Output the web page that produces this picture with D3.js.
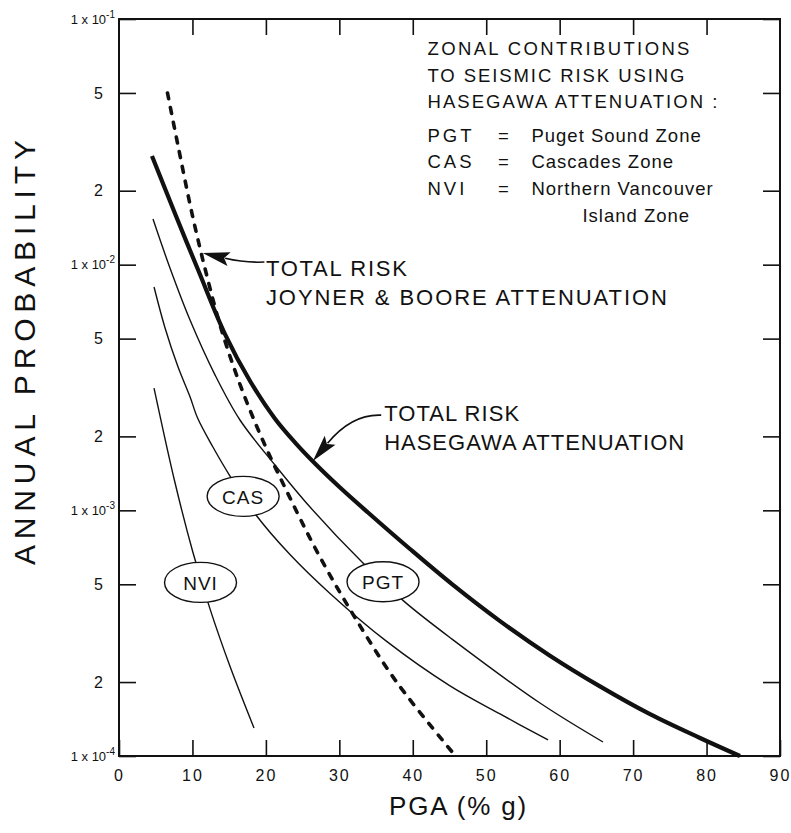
<!DOCTYPE html>
<html lang="en">
<head>
<meta charset="UTF-8">
<title>Zonal Contributions to Seismic Risk</title>
<script src="https://d3js.org/d3.v7.min.js"></script>
<style>
  body { margin: 0; background: #fff; }
  svg { display: block; font-family: "Liberation Sans", Arial, sans-serif; fill: #111; }
  .frame { fill: none; stroke: #111; stroke-width: 2; }
  .axis .tick line { stroke: #111; stroke-width: 1.6; }
  .axis .domain { display: none; }
  .axis text { fill: #111; font-size: 16px; font-family: "Liberation Sans", Arial, sans-serif; }
  .zone { fill: none; stroke: #111; stroke-width: 1.4; }
  .total { fill: none; stroke: #111; stroke-width: 4.2; }
  .joyner { fill: none; stroke: #111; stroke-width: 3.6; stroke-dasharray: 6 9; stroke-linecap: round; }
  .tag ellipse { fill: #fff; stroke: #111; stroke-width: 1.4; }
  .tag text { font-size: 19px; text-anchor: middle; dominant-baseline: central; letter-spacing: 1px; }
  .note { font-size: 22px; }
  .legend { font-size: 18.5px; }
</style>
</head>
<body>
<div id="chart"></div>
<script>
// PGA in % g, annual probability
const totalHasegawaPga  = [4.49, 7.76, 10.89, 14.43, 17.84, 21.24, 24.1, 26.82, 30.09, 33.9, 39.62, 45.47,
                           51.88, 58.68, 65.49, 72.3, 79.11, 84.55];
const totalHasegawaProb = [0.02769, 0.01578, 0.00933, 0.00522, 0.00336, 0.00236, 0.00187, 0.001537, 0.001239,
                           0.000980, 0.000696, 0.000497, 0.000354, 0.000256, 0.000192, 0.000148, 0.0001184, 0.0001];

const totalJoynerPga  = [6.6, 8, 10, 12, 14, 16.5, 19.5, 23, 27, 31.8, 37.8, 45.7];
const totalJoynerProb = [0.0500, 0.0309, 0.01585, 0.00891, 0.00537, 0.00324, 0.00195, 0.00117, 0.000676, 0.000380, 0.000200, 0.000101];

const pgtPga  = [4.63, 6.94, 9.67, 13.07, 16.47, 21.24, 26.01, 33.22, 38.94, 45.48, 57.32, 65.9];
const pgtProb = [0.01534, 0.00969, 0.00595, 0.00356, 0.002332, 0.001529, 0.001031, 0.000610, 0.000423,
                 0.000297, 0.0001643, 0.000114];

const casPga  = [4.77, 6.26, 8.03, 9.67, 10.7, 12.75, 15.07, 18.6, 23.28, 28.73, 36.49, 45.07, 51.88, 58.42];
const casProb = [0.00811, 0.00554, 0.00384, 0.00290, 0.002376, 0.001819, 0.001386, 0.000962, 0.000661,
                 0.000459, 0.000292, 0.000193, 0.0001483, 0.0001162];

const nviPga  = [4.77, 7.62, 10.08, 12.39, 15.11, 18.38];
const nviProb = [0.003146, 0.001298, 0.000672, 0.000397, 0.0002318, 0.00013];

const pgaTicks  = [0, 10, 20, 30, 40, 50, 60, 70, 80, 90];
const probTicks = [1e-4, 2e-4, 5e-4, 1e-3, 2e-3, 5e-3, 1e-2, 2e-2, 5e-2, 1e-1];

// zone tags
const tagNames = ["CAS", "PGT", "NVI"];
const tagPga   = [16.9, 35.95, 11.1];
const tagProb  = [1.14e-3, 5.12e-4, 5.09e-4];

// arrows: tail -> bend -> tip
const arrowTailPga  = [19.8, 35.7];
const arrowTailProb = [0.01025, 0.00244];
const arrowBendPga  = [17.2, 31.7];
const arrowBendProb = [0.01016, 0.00247];
const arrowTipPga   = [11.4, 26.4];
const arrowTipProb  = [0.01115, 0.001588];

// notes next to arrows
const noteText = [["TOTAL RISK", "JOYNER & BOORE ATTENUATION"], ["TOTAL RISK", "HASEGAWA ATTENUATION"]];
const notePga  = [20, 36.1];
const noteProb = [0.00899, 0.00231];
const noteLen  = [[141, 401], [135, 300]];

const legendLines = [
  ["ZONAL CONTRIBUTIONS"],
  ["TO SEISMIC RISK USING"],
  ["HASEGAWA ATTENUATION :"],
  ["PGT", "=", "Puget Sound Zone"],
  ["CAS", "=", "Cascades Zone"],
  ["NVI", "=", "Northern Vancouver"],
  ["", "", "Island Zone"]
];

const width = 791, height = 833;
const plotLeft = 119, plotRight = 780, plotTop = 19, plotBottom = 756;

const x = d3.scaleLinear().domain([0, 90]).range([plotLeft, plotRight]);
const y = d3.scaleLog().domain([1e-4, 1e-1]).range([plotBottom, plotTop]);

const svg = d3.select("#chart").append("svg")
  .attr("width", width)
  .attr("height", height);

// axes with inward ticks
svg.append("g").attr("class", "axis")
  .attr("transform", `translate(0,${plotBottom})`)
  .call(d3.axisBottom(x).tickValues(pgaTicks).tickSize(-16).tickSizeOuter(0).tickPadding(14))
  .selectAll("text").attr("letter-spacing", "2px");

svg.append("g").attr("class", "axis")
  .attr("transform", `translate(0,${plotTop})`)
  .call(d3.axisTop(x).tickValues(pgaTicks.slice(1, -1)).tickSize(-16).tickSizeOuter(0).tickFormat(""));

svg.append("g").attr("class", "axis")
  .attr("transform", `translate(${plotRight},0)`)
  .call(d3.axisRight(y).tickValues(probTicks).tickSize(-17).tickSizeOuter(0).tickFormat(""));

const yAxis = svg.append("g").attr("class", "axis")
  .attr("transform", `translate(${plotLeft},0)`)
  .call(d3.axisLeft(y).tickValues(probTicks).tickSize(-17).tickSizeOuter(0).tickPadding(4).tickFormat(""));

yAxis.selectAll(".tick text").each(function (d) {
  const exp = Math.floor(Math.log10(d) + 1e-9);
  const mant = Math.round(d / Math.pow(10, exp));
  const t = d3.select(this);
  if (mant === 1) {
    t.attr("x", -4).style("font-size", "13px").text("1 x 10");
    t.append("tspan").attr("dy", -6).style("font-size", "10px").text(exp);
  } else {
    t.attr("x", -16).text(mant);
  }
});

svg.append("rect").attr("class", "frame")
  .attr("x", plotLeft).attr("y", plotTop)
  .attr("width", plotRight - plotLeft).attr("height", plotBottom - plotTop);

// curves
const line = d3.line()
  .x(d => x(d[0]))
  .y(d => y(d[1]))
  .curve(d3.curveCatmullRom.alpha(0.5));

const zip = (a, b) => a.map((v, i) => [v, b[i]]);

[[pgtPga, pgtProb], [casPga, casProb], [nviPga, nviProb]].forEach(s => {
  svg.append("path").attr("class", "zone").attr("d", line(zip(s[0], s[1])));
});
svg.append("path").attr("class", "total").attr("d", line(zip(totalHasegawaPga, totalHasegawaProb)));
svg.append("path").attr("class", "joyner").attr("d", line(zip(totalJoynerPga, totalJoynerProb)));

// zone tags
const tags = svg.selectAll(".tag")
  .data(tagNames.map((n, i) => ({ name: n, px: x(tagPga[i]), py: y(tagProb[i]) })))
  .enter().append("g").attr("class", "tag")
  .attr("transform", d => `translate(${d.px},${d.py})`);
tags.append("ellipse").attr("rx", 36).attr("ry", 20);
tags.append("text").attr("y", 1).text(d => d.name);

// arrows
arrowTipPga.forEach((_, i) => {
  const tail = [x(arrowTailPga[i]), y(arrowTailProb[i])];
  const bend = [x(arrowBendPga[i]), y(arrowBendProb[i])];
  const tip = [x(arrowTipPga[i]), y(arrowTipProb[i])];
  let dx = tip[0] - bend[0], dy = tip[1] - bend[1];
  const len = Math.hypot(dx, dy);
  dx /= len; dy /= len;
  const headLen = 27, half = 7;
  const base = [tip[0] - dx * headLen, tip[1] - dy * headLen];
  svg.append("path")
    .attr("d", `M${tail[0]},${tail[1]} Q${bend[0]},${bend[1]} ${base[0] + dx * 4},${base[1] + dy * 4}`)
    .attr("fill", "none").attr("stroke", "#111").attr("stroke-width", 1.6);
  svg.append("path")
    .attr("d", `M${tip[0]},${tip[1]} L${base[0] - dy * half},${base[1] + dx * half} L${base[0] + dx * 5},${base[1] + dy * 5} L${base[0] + dy * half},${base[1] - dx * half} Z`)
    .attr("fill", "#111");
});

// notes
noteText.forEach((lines, i) => {
  lines.forEach((txt, j) => {
    svg.append("text").attr("class", "note")
      .attr("x", x(notePga[i]))
      .attr("y", y(noteProb[i]) + j * 29)
      .attr("textLength", noteLen[i][j])
      .attr("lengthAdjust", "spacing")
      .text(txt);
  });
});

// legend block
const legX = x(42), legY = 55;
const legOffsets = [0, 27, 53, 87, 113, 140, 167];
const legLens = [262, 257, 290];
legendLines.forEach((parts, i) => {
  const yy = legY + legOffsets[i];
  if (parts.length === 1) {
    svg.append("text").attr("class", "legend").attr("x", legX).attr("y", yy)
      .attr("textLength", legLens[i]).attr("lengthAdjust", "spacing").text(parts[0]);
  } else {
    svg.append("text").attr("class", "legend").attr("x", legX).attr("y", yy)
      .attr("letter-spacing", "3px").text(parts[0]);
    svg.append("text").attr("class", "legend").attr("x", legX + 76).attr("y", yy)
      .attr("text-anchor", "middle").text(parts[1]);
    svg.append("text").attr("class", "legend").attr("x", parts[0] ? legX + 104 : legX + 155).attr("y", yy)
      .attr("letter-spacing", "1px").text(parts[2]);
  }
});

// axis titles
svg.append("text")
  .attr("x", x(46.1)).attr("y", 815)
  .attr("text-anchor", "middle")
  .attr("font-size", 26)
  .attr("textLength", 137).attr("lengthAdjust", "spacing")
  .text("PGA (% g)");

svg.append("text")
  .attr("transform", `translate(35,${(plotTop + plotBottom) / 2 - 35}) rotate(-90)`)
  .attr("text-anchor", "middle")
  .attr("font-size", 30)
  .attr("textLength", 425).attr("lengthAdjust", "spacing")
  .text("ANNUAL PROBABILITY");
</script>
</body>
</html>
